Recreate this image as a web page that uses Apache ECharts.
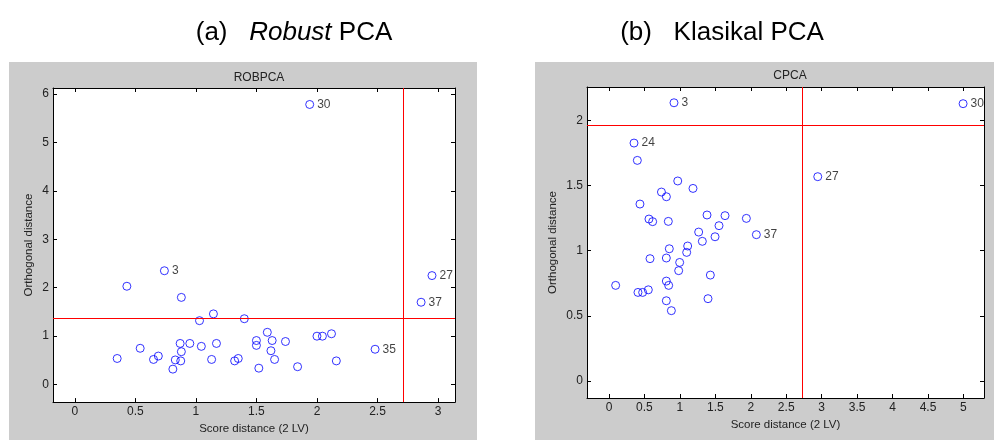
<!DOCTYPE html>
<html>
<head>
<meta charset="utf-8">
<title>ROBPCA vs CPCA</title>
<script src="https://cdn.jsdelivr.net/npm/echarts@6/dist/echarts.min.js"></script>
<style>
  html, body { margin: 0; padding: 0; background: #fff; }
  #chart { width: 994px; height: 440px; }
</style>
</head>
<body>
<div id="chart"></div>
<script>
/* (a) ROBPCA: score distance / orthogonal distance */
var robSd = [1.94, 0.74, 0.43, 0.88, 1.145, 1.03, 1.40, 1.59, 2.00, 2.045, 2.12, 2.95, 2.86, 2.48,
             2.16, 1.84, 1.74, 1.63, 1.62, 1.65, 1.50, 1.50, 1.52, 1.35, 1.32, 1.17, 1.13, 1.045,
             0.95, 0.87, 0.88, 0.875, 0.83, 0.81, 0.69, 0.65, 0.54, 0.35];
var robOd = [5.78, 2.35, 2.03, 1.80, 1.46, 1.32, 1.36, 1.08, 1.00, 1.00, 1.05, 2.25, 1.70, 0.73,
             0.49, 0.37, 0.89, 0.91, 0.70, 0.52, 0.91, 0.81, 0.34, 0.54, 0.49, 0.85, 0.52, 0.79,
             0.85, 0.85, 0.68, 0.49, 0.51, 0.32, 0.59, 0.52, 0.75, 0.54];
var robLabels = ['30', '3', '', '', '', '', '', '', '', '', '', '27', '37', '35',
                 '', '', '', '', '', '', '', '', '', '', '', '', '', '',
                 '', '', '', '', '', '', '', '', '', ''];
var robCutSd = 2.71;
var robCutOd = 1.36;

/* (b) CPCA */
var cSd = [0.917, 4.995, 0.353, 0.40, 2.945, 0.97, 1.185, 0.74, 0.81, 0.437, 1.383, 1.637, 1.938,
           0.564, 0.616, 0.837, 1.552, 1.265, 2.079, 1.496, 1.317, 1.11, 1.096, 0.851, 0.579,
           0.809, 0.997, 0.983, 1.43, 0.809, 0.842, 0.094, 0.409, 0.475, 0.555, 0.809, 1.397, 0.88];
var cOd = [2.135, 2.128, 1.826, 1.693, 1.568, 1.535, 1.478, 1.45, 1.414, 1.358, 1.274, 1.269, 1.248,
           1.243, 1.223, 1.225, 1.192, 1.143, 1.123, 1.107, 1.072, 1.036, 0.987, 1.015, 0.939,
           0.944, 0.91, 0.847, 0.813, 0.767, 0.734, 0.734, 0.68, 0.68, 0.70, 0.616, 0.632, 0.54];
var cLabels = ['3', '30', '24', '', '27', '', '', '', '', '', '', '', '',
               '', '', '', '', '', '37', '', '', '', '', '', '',
               '', '', '', '', '', '', '', '', '', '', '', '', ''];
var cCutSd = 2.73;
var cCutOd = 1.96;

var axisFont = 'Liberation Sans';
var titleFont = '"Liberation Sans Narrow", "Arial Narrow", "Liberation Sans", sans-serif';
var tickColor = '#222';

function zip(xs, ys, labels) {
    var out = [];
    for (var i = 0; i < xs.length; i++) {
        out.push({ value: [xs[i], ys[i]], name: labels[i] });
    }
    return out;
}

// show labels only on multiples of the step (hide the edge ticks echarts adds)
function stepLabel(step) {
    return function(v) {
        var k = Math.round(v / step);
        if (Math.abs(k * step - v) > 1e-6) return '';
        return String(+(k * step).toFixed(2));
    };
}

// bottom/left axis with labels, top/right copy with ticks only
function makeX(grid, min, max, split, step, name, gap) {
    var base = {
        gridIndex: grid, type: 'value', min: min, max: max, splitNumber: split,
        splitLine: { show: false },
        axisTick: { inside: true, length: 4, lineStyle: { color: '#000' } }
    };
    var bottom = Object.assign({}, base, {
        position: 'bottom',
        name: name, nameLocation: 'middle', nameGap: gap,
        nameTextStyle: { fontFamily: axisFont, fontSize: 11.5, color: tickColor },
        axisLine: { show: true, onZero: false, lineStyle: { color: '#000', width: 1 } },
        axisLabel: { formatter: stepLabel(step), fontFamily: axisFont, fontSize: 12, color: tickColor, margin: 4 }
    });
    var top = Object.assign({}, base, {
        position: 'top',
        axisLine: { show: true, onZero: false, lineStyle: { color: '#000', width: 1 } },
        axisLabel: { show: false }
    });
    return [bottom, top];
}

function makeY(grid, min, max, split, step, name, gap) {
    var base = {
        gridIndex: grid, type: 'value', min: min, max: max, splitNumber: split,
        splitLine: { show: false },
        axisTick: { inside: true, length: 4, lineStyle: { color: '#000' } }
    };
    var left = Object.assign({}, base, {
        position: 'left',
        name: name, nameLocation: 'middle', nameGap: gap, nameRotate: 90,
        nameTextStyle: { fontFamily: axisFont, fontSize: 11.5, color: tickColor },
        axisLine: { show: true, onZero: false, lineStyle: { color: '#000', width: 1 } },
        axisLabel: { formatter: stepLabel(step), fontFamily: axisFont, fontSize: 12, color: tickColor, margin: 4 }
    });
    var right = Object.assign({}, base, {
        position: 'right',
        axisLine: { show: true, onZero: false, lineStyle: { color: '#000', width: 1 } },
        axisLabel: { show: false }
    });
    return [left, right];
}

function scatterSeries(xi, yi, data, cutSd, cutOd) {
    return {
        type: 'scatter',
        xAxisIndex: xi, yAxisIndex: yi,
        data: data,
        symbol: 'circle',
        symbolSize: 8,
        itemStyle: { color: 'rgba(0,0,0,0)', borderColor: '#0000ff', borderWidth: 1 },
        label: {
            show: true, position: 'right', distance: 3,
            formatter: function(p) { return p.name; },
            fontFamily: axisFont, fontSize: 12, color: '#111'
        },
        emphasis: { disabled: true },
        markLine: {
            silent: true, symbol: 'none', animation: false,
            label: { show: false },
            lineStyle: { color: '#ff0000', width: 1, type: 'solid' },
            data: [{ xAxis: cutSd }, { yAxis: cutOd }]
        }
    };
}

var chart = echarts.init(document.getElementById('chart'));

var xs = makeX(0, -0.18, 3.14, 5, 0.5, 'Score distance (2 LV)', 19)
    .concat(makeX(1, -0.31, 5.29, 11, 0.5, 'Score distance (2 LV)', 18));
var ys = makeY(0, -0.36, 6.12, 6, 1, 'Orthogonal distance', 18)
    .concat(makeY(1, -0.13, 2.256, 5, 0.5, 'Orthogonal distance', 28));

var option = {
    animation: false,
    backgroundColor: '#ffffff',
    graphic: [
        { type: 'rect', z: -10, shape: { x: 9, y: 62, width: 468, height: 378 }, style: { fill: '#cccccc' } },
        { type: 'rect', z: -10, shape: { x: 535, y: 62, width: 459, height: 378 }, style: { fill: '#cccccc' } }
    ],
    title: [
        {
            text: '(a)   {i|Robust} PCA', left: 289, top: 15, textAlign: 'center',
            textStyle: {
                fontFamily: titleFont, fontSize: 26, fontWeight: 'normal', color: '#000',
                rich: { i: { fontFamily: titleFont, fontSize: 26, fontStyle: 'italic', color: '#000' } }
            }
        },
        {
            text: '(b)   Klasikal PCA', left: 717, top: 15, textAlign: 'center',
            textStyle: { fontFamily: titleFont, fontSize: 26, fontWeight: 'normal', color: '#000' }
        },
        {
            text: 'ROBPCA', left: 254, top: 67, textAlign: 'center',
            textStyle: { fontFamily: axisFont, fontSize: 12, fontWeight: 'normal', color: tickColor }
        },
        {
            text: 'CPCA', left: 785, top: 65, textAlign: 'center',
            textStyle: { fontFamily: axisFont, fontSize: 12, fontWeight: 'normal', color: tickColor }
        }
    ],
    grid: [
        { left: 53, top: 88, width: 402, height: 319, show: true, backgroundColor: '#ffffff', borderWidth: 0 },
        { left: 587, top: 87, width: 397, height: 311, show: true, backgroundColor: '#ffffff', borderWidth: 0 }
    ],
    xAxis: xs,
    yAxis: ys,
    series: [
        scatterSeries(0, 0, zip(robSd, robOd, robLabels), robCutSd, robCutOd),
        scatterSeries(2, 2, zip(cSd, cOd, cLabels), cCutSd, cCutOd)
    ]
};

chart.setOption(option);
</script>
</body>
</html>
